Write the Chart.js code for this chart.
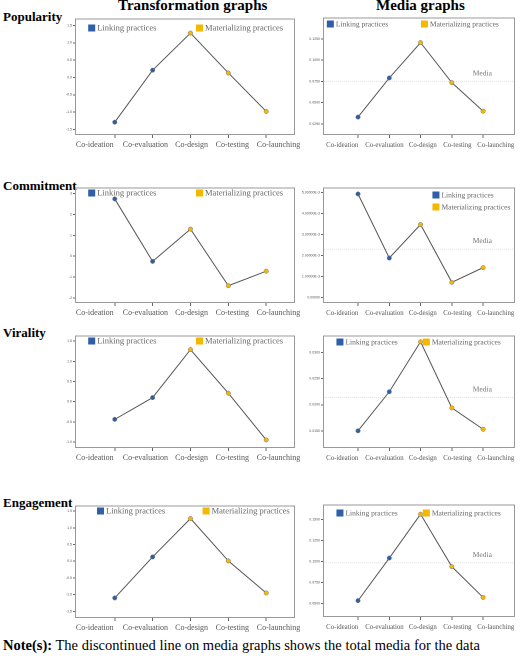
<!DOCTYPE html>
<html><head><meta charset="utf-8">
<script src="https://cdn.jsdelivr.net/npm/chart.js@4"></script>
<style>
body{margin:0;width:520px;height:656px;background:#fff;position:relative;font-family:"Liberation Serif",serif;overflow:hidden}
.t{position:absolute;font-weight:bold;color:#000}
canvas{position:absolute}
</style></head><body>
<div class="t" style="left:118px;top:-3px;font-size:15px">Transformation graphs</div>
<div class="t" style="left:376px;top:-3px;font-size:15px">Media graphs</div>
<div class="t" style="left:3px;top:9px;font-size:13px">Popularity</div>
<div class="t" style="left:3px;top:178px;font-size:13px">Commitment</div>
<div class="t" style="left:3px;top:325px;font-size:13px">Virality</div>
<div class="t" style="left:3px;top:495px;font-size:13px">Engagement</div>
<div style="position:absolute;left:3px;top:637px;font-size:14.5px;color:#000"><b>Note(s):</b> The discontinued line on media graphs shows the total media for the data</div>
<canvas id="c0"></canvas><canvas id="c1"></canvas><canvas id="c2"></canvas><canvas id="c3"></canvas>
<canvas id="c4"></canvas><canvas id="c5"></canvas><canvas id="c6"></canvas><canvas id="c7"></canvas>
<script>
const categories = ["Co-ideation","Co-evaluation","Co-design","Co-testing","Co-launching"];
const practiceType = ["L","L","M","M","M"];
const popularityTransform = [-1.29, 0.21, 1.28, 0.13, -0.98];
const popularityMedia = [0.033, 0.079, 0.1205, 0.0735, 0.040];
const popularityMedian = 0.075;
const commitmentTransform = [2.75, -0.25, 1.3, -1.42, -0.72];
const commitmentMedia = [0.00494, 0.00188, 0.00348, 0.00072, 0.00142];
const commitmentMedian = 0.0023;
const viralityTransform = [-0.44, 0.1, 1.29, 0.21, -0.95];
const viralityMedia = [0.0150, 0.0225, 0.0321, 0.0194, 0.0153];
const viralityMedian = 0.0214;
const engagementTransform = [-1.1, 0.13, 1.28, 0.01, -0.95];
const engagementMedia = [0.0535, 0.1042, 0.1565, 0.094, 0.0573];
const engagementMedian = 0.0985;
const tTicks1 = [-1.5,-1.0,-0.5,0.0,0.5,1.0,1.5];
const tTicks2 = [-2,-1,0,1,2,3];
const tTicks3 = [-1.0,-0.5,0.0,0.5,1.0,1.5];
const mTicksPop = [0.025,0.05,0.075,0.1,0.125];
const mTicksCom = [0,0.001,0.002,0.003,0.004,0.005];
const mTicksVir = [0.015,0.02,0.025,0.03];
const mTicksEng = [0.05,0.075,0.1,0.125,0.15];

const BLUE="#2f5fa8", YEL="#f5b800";
const labFracL=[0.09,0.32,0.53,0.715,0.925], labFracR=[0.10,0.32,0.52,0.70,0.90];
function make(id, cfg){
  const c=document.getElementById(id);
  const left = cfg.right?300:50, width = cfg.right?220:250, yw = cfg.right?23:25;
  const top = cfg.top-2, h = cfg.bottom-cfg.top+2+18;
  c.style.left=left+"px"; c.style.top=top+"px"; c.style.width=width+"px"; c.style.height=h+"px";
  const ds=[{data:cfg.vals.map((v,i)=>({x:i,y:v})),borderColor:"#555",borderWidth:1,
    pointBackgroundColor:practiceType.map(p=>p==="L"?BLUE:YEL),pointBorderColor:"#777",pointBorderWidth:0.5,pointRadius:2.2}];
  if(cfg.med!==undefined) ds.push({data:[{x:-3,y:cfg.med},{x:7,y:cfg.med}],borderColor:"#ddd",borderWidth:1,borderDash:[1,1],pointRadius:0});
  new Chart(c,{type:'line',data:{datasets:ds},options:{
    responsive:false,animation:false,devicePixelRatio:2,
    layout:{padding:{top:2,right:5,left:0,bottom:0}},
    plugins:{legend:{display:false},tooltip:{enabled:false}},
    scales:{
      x:{type:'linear',min:cfg.xmin,max:cfg.xmax,
        afterBuildTicks:a=>{a.ticks=[0,1,2,3,4].map(v=>({value:v}));},
        afterFit:a=>{a.height=18;},
        grid:{display:true,drawOnChartArea:false,tickLength:3,color:"#666"},border:{display:false},
        ticks:{callback:()=>"",maxRotation:0,autoSkip:false}},
      y:{min:cfg.ymin,max:cfg.ymax,
        afterBuildTicks:a=>{a.ticks=cfg.ticks.map(v=>({value:v}));},
        afterFit:a=>{a.width=yw;},
        grid:{display:true,drawOnChartArea:false,tickLength:2,color:"#666"},border:{display:false},
        ticks:{callback:cfg.fmt,padding:1,color:"#555",font:{size:3.5}}}
    }},
    plugins:[{id:'deco',afterDraw(ch){
      const g=ch.ctx,a=ch.chartArea;
      g.save();g.strokeStyle="#999";g.lineWidth=1;g.strokeRect(a.left+0.5,a.top+0.5,a.width-1,a.height-1);
      g.font=(cfg.right?"7.5px":"8.5px")+" Liberation Serif";g.textBaseline="middle";
      cfg.leg.forEach(([fx,y,col,txt])=>{const x=a.left+fx*a.width,yy=a.top+y;
        g.fillStyle=col;g.fillRect(x,yy-4,7,7);g.fillStyle="#666";g.fillText(txt,x+9,yy);});
      g.font=(cfg.right?"6.8px":"8px")+" Liberation Serif";g.fillStyle="#555";g.textAlign="center";
      const fr=cfg.right?labFracR:labFracL;
      categories.forEach((t,i)=>g.fillText(t,a.left+fr[i]*a.width,a.bottom+10));
      g.textAlign="left";
      if(cfg.med!==undefined){g.font="7.5px Liberation Serif";g.fillStyle="#777";
        g.fillText("Media",a.left+0.78*a.width,ch.scales.y.getPixelForValue(cfg.med)-8);}
      g.restore();}}]
  });
}
const f1=v=>v.toFixed(1), f0=v=>v.toFixed(0), f4=v=>v.toFixed(4), fE=v=>v===0?"0.00000":(v*1000).toFixed(5)+"E-3";
const LX=-1.05,RX=4.76,LXm=-1.12,RXm=5.02;
const legR=[[0.02,7,BLUE,"Linking practices"],[0.51,7,YEL,"Materializing practices"]];
make("c0",{top:16,bottom:135,vals:popularityTransform,ymin:-1.66,ymax:1.7,ticks:tTicks1,fmt:f1,xmin:LX,xmax:RX,leg:[[0.06,10,BLUE,"Linking practices"],[0.55,10,YEL,"Materializing practices"]]});
make("c1",{right:true,top:15,bottom:135,vals:popularityMedia,med:popularityMedian,ymin:0.012,ymax:0.15,ticks:mTicksPop,fmt:f4,xmin:LXm,xmax:RXm,leg:legR});
make("c2",{top:185,bottom:303,vals:commitmentTransform,ymin:-2.25,ymax:3.3,ticks:tTicks2,fmt:f0,xmin:LX,xmax:RX,leg:[[0.06,6,BLUE,"Linking practices"],[0.55,6,YEL,"Materializing practices"]]});
make("c3",{right:true,top:185,bottom:303,vals:commitmentMedia,med:commitmentMedian,ymin:-0.00027,ymax:0.00525,ticks:mTicksCom,fmt:fE,xmin:LXm,xmax:RXm,leg:[[0.57,8,BLUE,"Linking practices"],[0.57,20,YEL,"Materializing practices"]]});
make("c4",{top:333,bottom:448,vals:viralityTransform,ymin:-1.15,ymax:1.64,ticks:tTicks3,fmt:f1,xmin:LX,xmax:RX,leg:[[0.06,6,BLUE,"Linking practices"],[0.55,6,YEL,"Materializing practices"]]});
make("c5",{right:true,top:333,bottom:448,vals:viralityMedia,med:viralityMedian,ymin:0.0117,ymax:0.0333,ticks:mTicksVir,fmt:f4,xmin:LXm,xmax:RXm,leg:[[0.07,7,BLUE,"Linking practices"],[0.52,7,YEL,"Materializing practices"]]});
make("c6",{top:503,bottom:618,vals:engagementTransform,ymin:-1.7,ymax:1.67,ticks:tTicks1,fmt:f1,xmin:LX,xmax:RX,leg:[[0.1,6,BLUE,"Linking practices"],[0.58,6,YEL,"Materializing practices"]]});
make("c7",{right:true,top:502,bottom:617,vals:engagementMedia,med:engagementMedian,ymin:0.034,ymax:0.168,ticks:mTicksEng,fmt:f4,xmin:LXm,xmax:RXm,leg:[[0.07,9,BLUE,"Linking practices"],[0.52,9,YEL,"Materializing practices"]]});
</script></body></html>
